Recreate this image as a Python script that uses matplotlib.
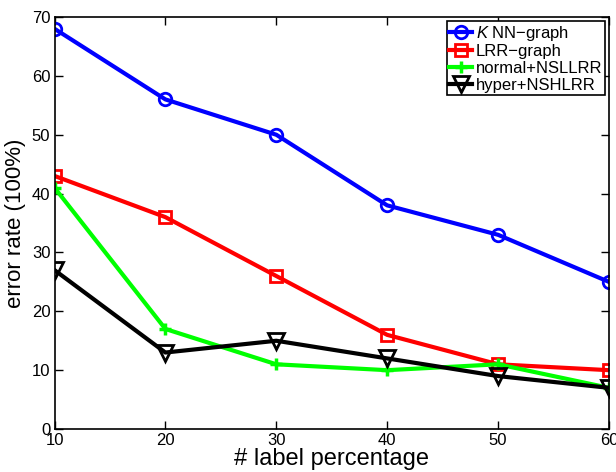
import matplotlib
matplotlib.use("Agg")
import matplotlib.pyplot as plt

# -------------------------------
# Data
# -------------------------------
label_pct = [10, 20, 30, 40, 50, 60]
knn_graph = [68, 56, 50, 38, 33, 25]
lrr_graph = [43, 36, 26, 16, 11, 10]
normal_nsllrr = [41, 17, 11, 10, 11, 7]
hyper_nshlrr = [27, 13, 15, 12, 9, 7]

plt.rcParams["font.family"] = ["Liberation Sans", "DejaVu Sans"]
plt.rcParams["mathtext.fontset"] = "custom"
plt.rcParams["mathtext.it"] = "Liberation Sans:italic"
plt.rcParams["mathtext.rm"] = "Liberation Sans"

fig = plt.figure(figsize=(6.16, 4.72), dpi=100)
ax = fig.add_axes([0.0885, 0.091, 0.900, 0.873])

lw = 3
ms = 9
ax.plot(label_pct, knn_graph, color="#0000ff", lw=lw, marker="o", ms=ms,
        mfc="none", mew=2, label="$K$ NN\u2212graph")
ax.plot(label_pct, lrr_graph, color="#ff0000", lw=lw, marker="s", ms=8,
        mfc="none", mew=2, label="LRR\u2212graph")
ax.plot(label_pct, normal_nsllrr, color="#00ff00", lw=lw, marker="+", ms=ms,
        mew=2.5, label="normal+NSLLRR")
ax.plot(label_pct, hyper_nshlrr, color="black", lw=lw, marker="v", ms=11,
        mfc="none", mew=2, label="hyper+NSHLRR")

ax.set_xlim(10, 60)
ax.set_ylim(0, 70)
ax.set_xticks(label_pct)
ax.set_yticks(range(0, 71, 10))
ax.tick_params(direction="in", labelsize=12, length=6, width=1,
               top=True, right=True, pad=3)
for s in ax.spines.values():
    s.set_linewidth(1.2)

ax.set_xlabel("# label percentage", fontsize=17, labelpad=0)
ax.set_ylabel("error rate (100%)", fontsize=16, labelpad=4)

leg = ax.legend(loc="upper right", fontsize=12, handlelength=1.4,
                handletextpad=0.2, borderpad=0.15, labelspacing=0.1,
                fancybox=False, edgecolor="black", framealpha=1,
                borderaxespad=0.25)
leg.get_frame().set_linewidth(1.2)

fig.savefig("out.png", dpi=100)
